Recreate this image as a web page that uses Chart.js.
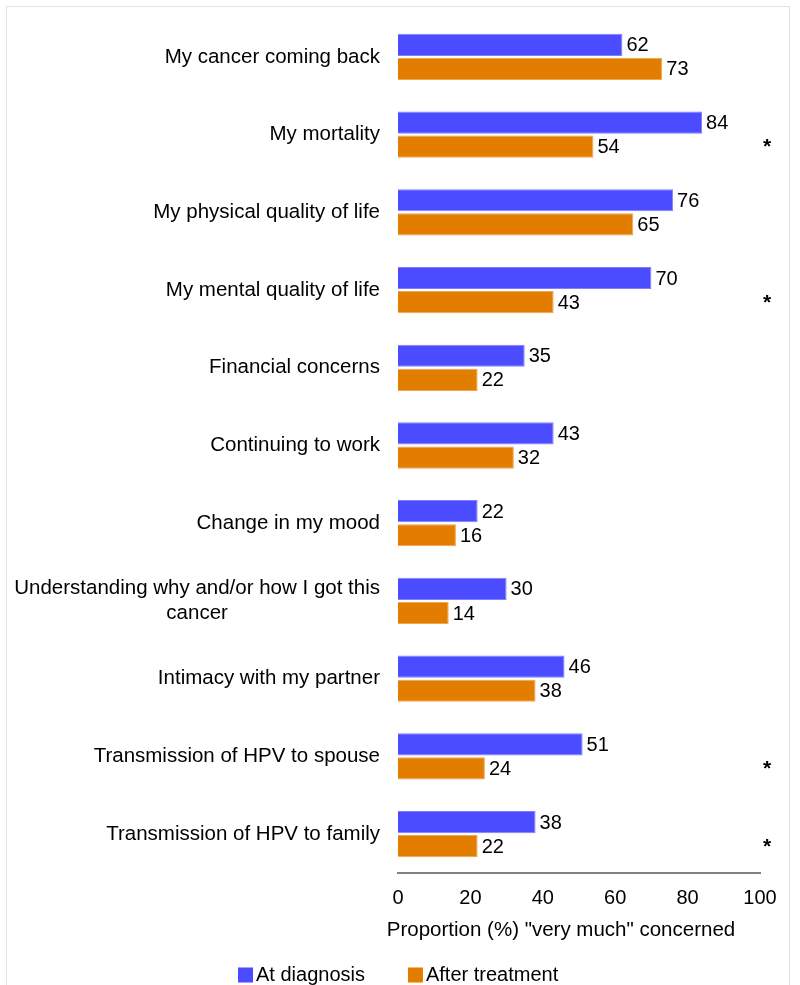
<!DOCTYPE html>
<html>
<head>
<meta charset="utf-8">
<script src="https://cdn.jsdelivr.net/npm/chart.js@4/dist/chart.umd.min.js"></script>
<style>
html,body{margin:0;padding:0;background:#fff;}
#wrap{position:relative;width:800px;height:985px;overflow:hidden;}
#frame{position:absolute;left:6px;top:6px;width:784px;height:990px;border:1px solid #e2e2e2;box-sizing:border-box;}
canvas{position:absolute;left:0;top:0;}
</style>
</head>
<body>
<div id="wrap"><div id="frame"></div><canvas id="c" width="800" height="985"></canvas></div>
<script>
const categories = [
  "My cancer coming back",
  "My mortality",
  "My physical quality of life",
  "My mental quality of life",
  "Financial concerns",
  "Continuing to work",
  "Change in my mood",
  ["Understanding why and/or how I got this", "cancer"],
  "Intimacy with my partner",
  "Transmission of HPV to spouse",
  "Transmission of HPV to family"
];
const atDiagnosis = [62, 84, 76, 70, 35, 43, 22, 30, 46, 51, 38];
const afterTreatment = [73, 54, 65, 43, 22, 32, 16, 14, 38, 24, 22];
const significant = [false, true, false, true, false, false, false, false, false, true, true];
const xTicks = [0, 20, 40, 60, 80, 100];
const seriesNames = ["At diagnosis", "After treatment"];
const axisTitle = 'Proportion (%) "very much" concerned';

const FONT = "'Liberation Sans', Arial, sans-serif";
const FS = 20;
const CAT_FS = 20.5;

const drawPlugin = {
  id: 'customText',
  afterDraw(chart) {
    const ctx = chart.ctx;
    const area = chart.chartArea;
    ctx.save();
    ctx.fillStyle = "#000";
    ctx.textBaseline = "middle";

    // category labels (right aligned block, multi-line centred within block)
    const yScale = chart.scales.y;
    ctx.font = CAT_FS + "px " + FONT;
    chart.data.labels.forEach((lab, i) => {
      const lines = Array.isArray(lab) ? lab : [lab];
      const yc = yScale.getPixelForTick(i);
      const lh = 25;
      const widths = lines.map(l => ctx.measureText(l).width);
      const maxW = Math.max(...widths);
      const right = area.left - 18;
      lines.forEach((l, k) => {
        const y = yc + (k - (lines.length - 1) / 2) * lh;
        ctx.textAlign = "center";
        ctx.fillText(l, right - maxW / 2, y);
      });
    });

    // value labels
    ctx.font = FS + "px " + FONT;
    ctx.textAlign = "left";
    chart.data.datasets.forEach((ds, di) => {
      const meta = chart.getDatasetMeta(di);
      meta.data.forEach((bar, i) => {
        ctx.fillText(String(ds.data[i]), bar.x + 4, bar.y + 1);
      });
    });

    // significance asterisks
    const meta1 = chart.getDatasetMeta(1);
    ctx.font = "bold 21px " + FONT;
    ctx.textAlign = "center";
    significant.forEach((s, i) => {
      if (s) ctx.fillText("*", 767, meta1.data[i].y + 1);
    });

    // axis title
    ctx.font = CAT_FS + "px " + FONT;
    ctx.textAlign = "center";
    ctx.fillText(axisTitle, 561, area.bottom + 57);

    // legend
    const legY = 975;
    let x = 238;
    ctx.font = FS + "px " + FONT;
    ctx.textAlign = "left";
    chart.data.datasets.forEach((ds, di) => {
      ctx.fillStyle = ds.backgroundColor;
      ctx.fillRect(x, legY - 7.5, 15, 15);
      ctx.fillStyle = "#000";
      ctx.fillText(ds.label, x + 18, legY);
      x += 18 + ctx.measureText(ds.label).width + 43;
    });
    ctx.restore();
  }
};

new Chart(document.getElementById('c'), {
  type: 'bar',
  data: {
    labels: categories,
    datasets: [
      { label: seriesNames[0], data: atDiagnosis, backgroundColor: '#4b4bff', borderColor: '#8080ff', borderWidth: 1, barPercentage: 0.92, categoryPercentage: 0.62 },
      { label: seriesNames[1], data: afterTreatment, backgroundColor: '#e37d00', borderColor: '#f0a550', borderWidth: 1, barPercentage: 0.92, categoryPercentage: 0.62 }
    ]
  },
  options: {
    indexAxis: 'y',
    responsive: false,
    animation: false,
    devicePixelRatio: 1,
    layout: { padding: { left: 6, right: 40, top: 18, bottom: 72 } },
    plugins: {
      legend: { display: false },
      tooltip: { enabled: false }
    },
    scales: {
      x: {
        min: 0, max: 100,
        afterBuildTicks(scale) { scale.ticks = xTicks.map(v => ({ value: v })); },
        grid: { display: false, drawTicks: false },
        border: { display: true, color: '#808080', width: 2 },
        ticks: { font: { size: FS, family: FONT }, color: '#000', padding: 13 },
        afterFit(scale) { scale.height = 40; }
      },
      y: {
        grid: { display: false, drawTicks: false },
        border: { display: false },
        ticks: { display: false },
        afterFit(scale) { scale.width = 392; scale.paddingTop = 0; scale.paddingBottom = 0; }
      }
    }
  },
  plugins: [drawPlugin]
});
</script>
</body>
</html>
